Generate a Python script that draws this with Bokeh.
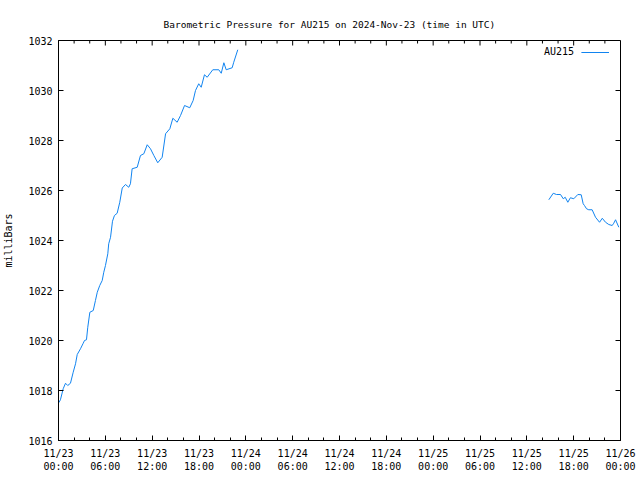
from datetime import datetime
from bokeh.plotting import figure
from bokeh.models import (Range1d, FixedTicker, DatetimeTickFormatter, Legend, LegendItem)
from bokeh.embed import file_html
from bokeh.resources import INLINE

# ---- data ----
times_1 = ["2024-11-23 00:02", "2024-11-23 00:15", "2024-11-23 00:36", "2024-11-23 00:54",
           "2024-11-23 01:11", "2024-11-23 01:32", "2024-11-23 01:53", "2024-11-23 02:11",
           "2024-11-23 02:24", "2024-11-23 02:49", "2024-11-23 03:10", "2024-11-23 03:20",
           "2024-11-23 03:35", "2024-11-23 03:45", "2024-11-23 04:01", "2024-11-23 04:27",
           "2024-11-23 04:44", "2024-11-23 04:58", "2024-11-23 05:17", "2024-11-23 05:36",
           "2024-11-23 05:48", "2024-11-23 06:01", "2024-11-23 06:19", "2024-11-23 06:26",
           "2024-11-23 06:40", "2024-11-23 06:55", "2024-11-23 07:10", "2024-11-23 07:31",
           "2024-11-23 07:51", "2024-11-23 08:10", "2024-11-23 08:35", "2024-11-23 09:00",
           "2024-11-23 09:13", "2024-11-23 09:26", "2024-11-23 10:05", "2024-11-23 10:30",
           "2024-11-23 10:56", "2024-11-23 11:22", "2024-11-23 11:47", "2024-11-23 12:13",
           "2024-11-23 12:43", "2024-11-23 13:17", "2024-11-23 13:43", "2024-11-23 14:16",
           "2024-11-23 14:39", "2024-11-23 15:12", "2024-11-23 15:38", "2024-11-23 16:09",
           "2024-11-23 16:49", "2024-11-23 17:15", "2024-11-23 17:33", "2024-11-23 17:58",
           "2024-11-23 18:17", "2024-11-23 18:42", "2024-11-23 19:03", "2024-11-23 19:46",
           "2024-11-23 20:32", "2024-11-23 20:51", "2024-11-23 21:11", "2024-11-23 21:29",
           "2024-11-23 22:15", "2024-11-23 22:27", "2024-11-23 22:58"]
pressure_1 = [1017.51, 1017.63, 1018.07, 1018.29, 1018.20, 1018.29, 1018.73, 1019.07,
              1019.44, 1019.67, 1019.89, 1020.00, 1020.03, 1020.53, 1021.13, 1021.20,
              1021.60, 1021.93, 1022.20, 1022.40, 1022.73, 1023.00, 1023.47, 1023.87,
              1024.13, 1024.77, 1025.00, 1025.09, 1025.53, 1026.10, 1026.24, 1026.13,
              1026.27, 1026.87, 1026.93, 1027.40, 1027.47, 1027.83, 1027.67, 1027.40,
              1027.11, 1027.33, 1028.27, 1028.47, 1028.89, 1028.73, 1029.00, 1029.40,
              1029.31, 1029.60, 1030.00, 1030.27, 1030.13, 1030.63, 1030.53, 1030.83,
              1030.83, 1030.69, 1031.11, 1030.83, 1030.91, 1031.13, 1031.63]

times_2 = ["2024-11-25 14:49", "2024-11-25 15:23", "2024-11-25 15:48", "2024-11-25 16:19",
           "2024-11-25 16:40", "2024-11-25 16:55", "2024-11-25 17:15", "2024-11-25 17:35",
           "2024-11-25 18:01", "2024-11-25 18:32", "2024-11-25 18:58", "2024-11-25 19:13",
           "2024-11-25 19:23", "2024-11-25 19:39", "2024-11-25 19:56", "2024-11-25 20:22",
           "2024-11-25 20:48", "2024-11-25 21:19", "2024-11-25 21:40", "2024-11-25 22:05",
           "2024-11-25 22:30", "2024-11-25 22:56", "2024-11-25 23:08", "2024-11-25 23:22",
           "2024-11-25 23:47"]
pressure_2 = [1025.63, 1025.89, 1025.84, 1025.84, 1025.67, 1025.73, 1025.53, 1025.71,
              1025.67, 1025.84, 1025.83, 1025.47, 1025.40, 1025.27, 1025.23, 1025.23,
              1024.93, 1024.73, 1024.89, 1024.73, 1024.64, 1024.60, 1024.69, 1024.83,
              1024.53]

x_start = "2024-11-23 00:00"
x_end = "2024-11-26 00:00"
y_ticks = [1016, 1018, 1020, 1022, 1024, 1026, 1028, 1030, 1032]
series_name = "AU215"
title_text = "Barometric Pressure for AU215 on 2024-Nov-23 (time in UTC)"
y_label = "milliBars"

FMT = "%Y-%m-%d %H:%M"
def to_dt(s):
    return datetime.strptime(s, FMT)

t0 = to_dt(x_start)
t1 = to_dt(x_end)
t0_ms = t0.timestamp() * 1000.0
t1_ms = t1.timestamp() * 1000.0
hour_ms = 3600 * 1000.0
major = [t0_ms + i * 6 * hour_ms for i in range(13)]
minor = [t0_ms + i * 2 * hour_ms for i in range(37)]
y0, y1 = y_ticks[0], y_ticks[-1]

FONT = "DejaVu Sans Mono"
FS = "10px"
COLOR = "#1184f0"
W, H = 640, 480
BL, BR, BT, BB = 58, 20, 40, 40
FRAME_W = W - BL - BR
FRAME_H = H - BT - BB

p = figure(width=W, height=H, x_axis_type="datetime",
           x_range=Range1d(t0, t1), y_range=Range1d(y0, y1),
           output_backend="svg", toolbar_location=None,
           min_border_left=BL, min_border_right=BR, min_border_top=BT, min_border_bottom=BB)
p.background_fill_color = "white"
p.border_fill_color = "white"
p.outline_line_color = "black"
p.outline_line_width = 1
p.xgrid.visible = False
p.ygrid.visible = False

xt = FixedTicker(ticks=major, minor_ticks=minor)
yt = FixedTicker(ticks=y_ticks, minor_ticks=[])
F = "%m/%d\n%H:%M"
fmt = DatetimeTickFormatter(milliseconds=F, seconds=F, minsec=F, minutes=F, hourmin=F,
                            hours=F, days=F, months=F, years=F)

def style_axis(ax):
    ax.major_tick_in = 5
    ax.major_tick_out = 0
    ax.minor_tick_in = 3
    ax.minor_tick_out = 0
    ax.axis_line_color = "black"
    ax.major_tick_line_color = "black"
    ax.minor_tick_line_color = "black"
    ax.major_label_text_font = FONT
    ax.major_label_text_font_size = FS
    ax.major_label_text_color = "black"
    ax.major_label_standoff = 6

xa = p.xaxis[0]
xa.ticker = xt
xa.formatter = fmt
style_axis(xa)
xa.major_label_standoff = 7

ya = p.yaxis[0]
ya.ticker = yt
style_axis(ya)
ya.axis_label = y_label
ya.axis_label_text_font = FONT
ya.axis_label_text_font_size = FS
ya.axis_label_text_font_style = "normal"
ya.axis_label_text_color = "black"
ya.axis_label_standoff = 11

# mirrored ticks on the top and right edges (same tick positions as the axes)
y_per_px = (y1 - y0) / FRAME_H
x_per_px = (t1_ms - t0_ms) / FRAME_W
minor_only = [m for m in minor if m not in major]
top_x = major + minor_only
top_len = [5 * y_per_px] * len(major) + [3 * y_per_px] * len(minor_only)
p.segment(x0=top_x, y0=[y1] * len(top_x), x1=top_x,
          y1=[y1 - d for d in top_len], line_color="black", line_width=1)
p.segment(x0=[t1_ms] * len(y_ticks), y0=y_ticks, x1=[t1_ms - 5 * x_per_px] * len(y_ticks),
          y1=y_ticks, line_color="black", line_width=1)

r1 = p.line([to_dt(s) for s in times_1], pressure_1, line_color=COLOR, line_width=1)
r2 = p.line([to_dt(s) for s in times_2], pressure_2, line_color=COLOR, line_width=1)
dummy = p.line([], [], line_alpha=0)

legend = Legend(items=[LegendItem(label=series_name, renderers=[dummy]),
                       LegendItem(label="", renderers=[r1])],
                orientation="horizontal", location="top_right",
                margin=6, padding=6, spacing=7, label_standoff=5,
                glyph_width=28, glyph_height=8, label_width=0, label_height=8,
                label_text_font=FONT, label_text_font_size=FS, label_text_color="black",
                border_line_color=None, background_fill_alpha=0)
p.add_layout(legend, "center")

p.title.text = title_text
p.title.align = "left"
p.title.offset = 105
p.title.standoff = 21
p.title.text_font = FONT
p.title.text_font_size = "9.5px"
p.title.text_font_style = "normal"
p.title.text_color = "black"

open("out.html", "w").write(file_html(p, INLINE))
